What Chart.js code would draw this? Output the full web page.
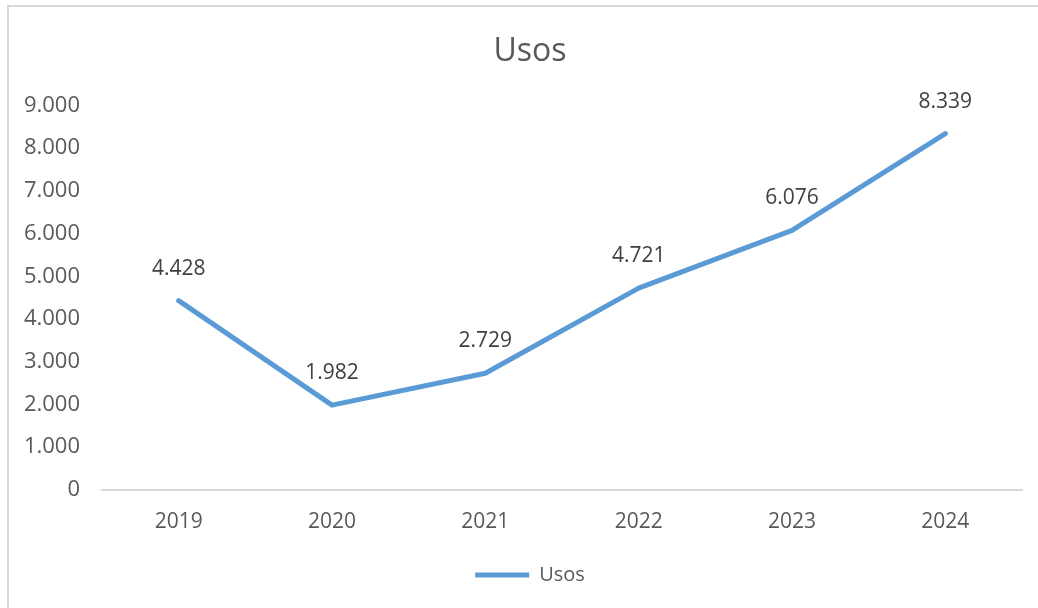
<!DOCTYPE html>
<html>
<head>
<meta charset="utf-8">
<script src="https://cdn.jsdelivr.net/npm/chart.js@4/dist/chart.umd.min.js"></script>
<style>
  html, body { margin: 0; padding: 0; background: #fff; }
  #wrap { width: 1038px; height: 608px; position: relative; }
</style>
</head>
<body>
<div id="wrap"><canvas id="usosChart"></canvas></div>
<script>
// data
const years = ['2019', '2020', '2021', '2022', '2023', '2024'];
const usos = [4428, 1982, 2729, 4721, 6076, 8339];
const yTicks = [0, 1000, 2000, 3000, 4000, 5000, 6000, 7000, 8000, 9000];

// thousands with a dot, also for 4-digit numbers
const dotted = v => String(v).replace(/\B(?=(\d{3})+(?!\d))/g, '.');

// light gray frame like the Excel chart border (right/bottom run off the picture)
const framePlugin = {
  id: 'frame',
  beforeDraw(chart) {
    const ctx = chart.ctx;
    ctx.save();
    ctx.fillStyle = '#ffffff';
    ctx.fillRect(0, 0, chart.width, chart.height);
    ctx.strokeStyle = '#d9d9d9';
    ctx.lineWidth = 2;
    ctx.strokeRect(8, 6, chart.width + 20, chart.height + 20);
    ctx.restore();
  }
};

// shift title + legend so they sit where Excel put them
const centerShift = {
  id: 'centerShift',
  afterLayout(chart) {
    const d = 15;
    [chart.titleBlock, chart.legend].forEach(b => {
      if (b) { b.left += d; b.right += d; }
    });
  }
};

// value labels above each point
const valueLabels = {
  id: 'valueLabels',
  afterDatasetsDraw(chart) {
    const ctx = chart.ctx;
    const meta = chart.getDatasetMeta(0);
    ctx.save();
    ctx.font = '21px "Open Sans"';
    ctx.fillStyle = '#404040';
    ctx.textAlign = 'center';
    ctx.textBaseline = 'middle';
    meta.data.forEach((pt, i) => {
      ctx.fillText(dotted(usos[i]), pt.x, pt.y - 32);
    });
    ctx.restore();
  }
};

const ctx = document.getElementById('usosChart').getContext('2d');
new Chart(ctx, {
  type: 'line',
  data: {
    labels: years,
    datasets: [{
      label: 'Usos',
      data: usos,
      borderColor: '#5B9BD5',
      backgroundColor: '#5B9BD5',
      borderWidth: 5,
      borderCapStyle: 'round',
      borderJoinStyle: 'round',
      pointRadius: 0,
      pointHoverRadius: 0,
      pointStyle: 'line',
      tension: 0,
      fill: false
    }]
  },
  options: {
    responsive: true,
    maintainAspectRatio: false,
    animation: false,
    layout: { padding: { left: 8, right: 16, top: 6, bottom: 13 } },
    plugins: {
      title: {
        display: true,
        text: 'Usos',
        color: '#595959',
        font: { family: 'Open Sans', size: 32, weight: 'normal' },
        padding: { top: 27, bottom: 34 }
      },
      legend: {
        display: true,
        position: 'bottom',
        labels: {
          color: '#595959',
          font: { family: 'Open Sans', size: 20 },
          usePointStyle: true,
          pointStyleWidth: 54,
          padding: 10
        }
      },
      tooltip: { enabled: false }
    },
    scales: {
      x: {
        offset: true,
        grid: { display: false, drawTicks: false },
        border: { display: true, color: '#d9d9d9', width: 2 },
        ticks: {
          color: '#595959',
          font: { family: 'Open Sans', size: 21 },
          padding: 20
        }
      },
      y: {
        min: 0,
        max: 9000,
        afterBuildTicks(scale) {
          scale.ticks = yTicks.map(v => ({ value: v }));
        },
        afterFit(scale) { scale.width = 94; },
        grid: { display: false, drawTicks: false },
        border: { display: false },
        ticks: {
          color: '#595959',
          font: { family: 'Open Sans', size: 22 },
          padding: 22,
          callback: v => dotted(v)
        }
      }
    }
  },
  plugins: [framePlugin, centerShift, valueLabels]
});
</script>
</body>
</html>
